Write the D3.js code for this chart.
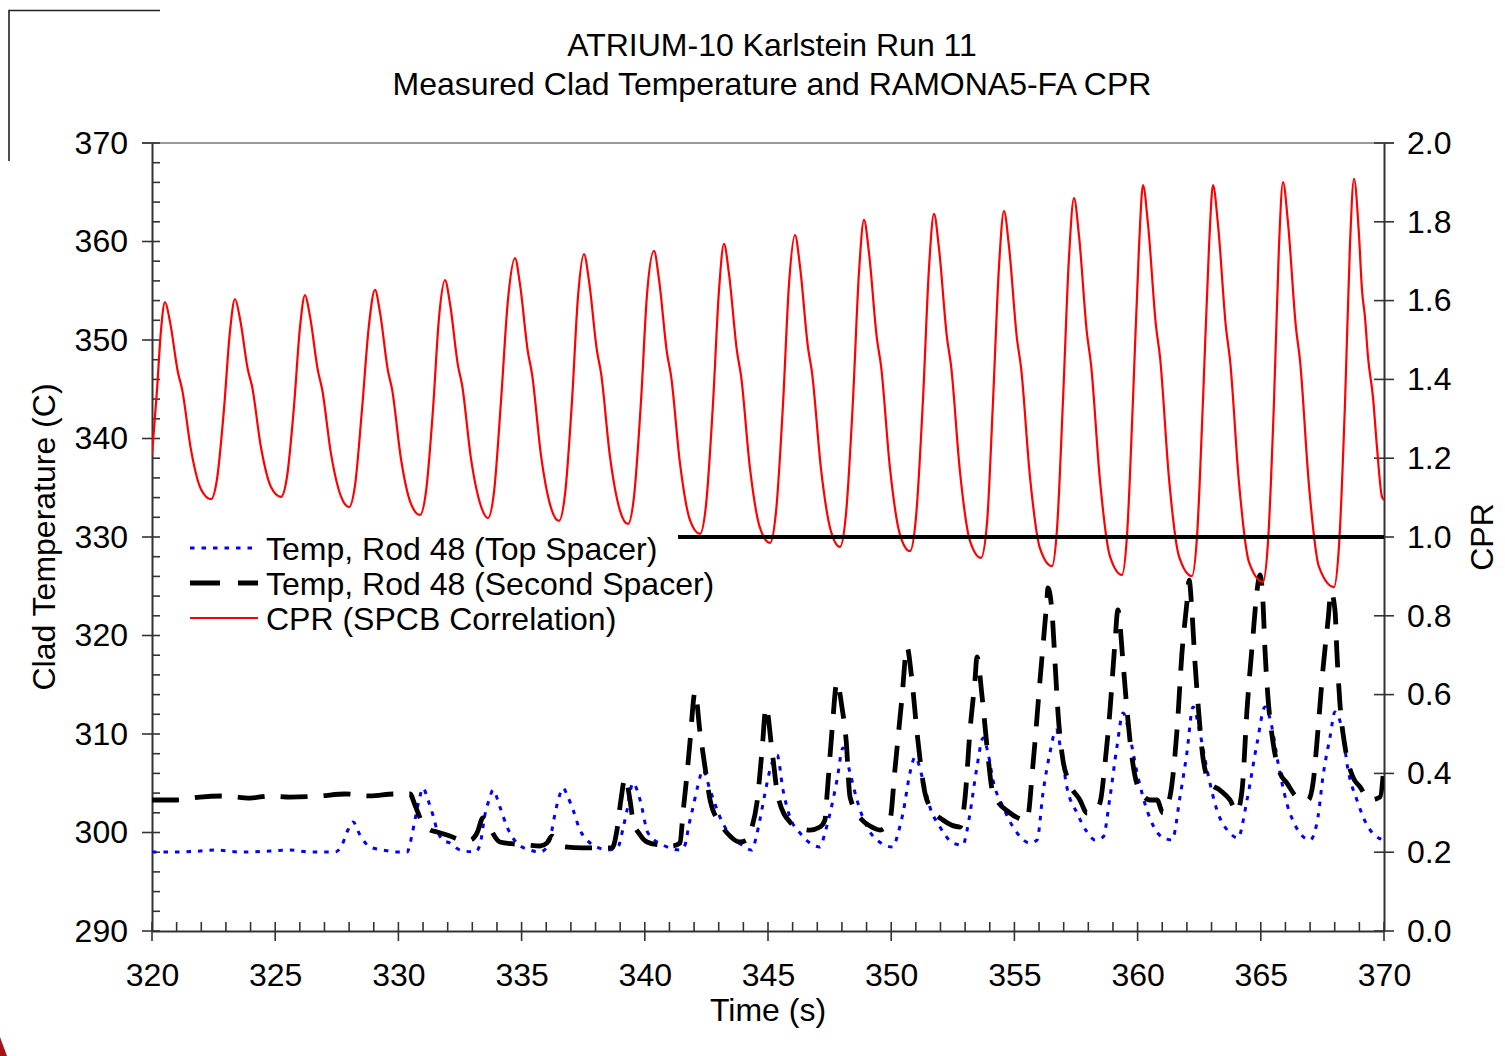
<!DOCTYPE html>
<html><head><meta charset="utf-8">
<script src="https://cdn.jsdelivr.net/npm/d3@7"></script>
<style>
body{margin:0;background:#fff;}
svg{display:block;}
text{font-family:"Liberation Sans",Arial,Helvetica,sans-serif;fill:#000;}
</style>
</head><body>
<svg id="c" width="1505" height="1056"></svg>
<script>
// ---------- DATA ----------
const titleLines = ["ATRIUM-10 Karlstein Run 11", "Measured Clad Temperature and RAMONA5-FA CPR"];
const xLabel = "Time (s)";
const yLeftLabel = "Clad Temperature (C)";
const yRightLabel = "CPR";
const xTicks = [320, 325, 330, 335, 340, 345, 350, 355, 360, 365, 370];
const yLeftTicks = [290, 300, 310, 320, 330, 340, 350, 360, 370];
const yRightTicks = [0.0, 0.2, 0.4, 0.6, 0.8, 1.0, 1.2, 1.4, 1.6, 1.8, 2.0];
const seriesNames = ["Temp, Rod 48 (Top Spacer)", "Temp, Rod 48 (Second Spacer)", "CPR (SPCB Correlation)"];

// [time s, CPR]
const cprData = [
[320.000,1.208],[320.203,1.373],[320.365,1.525],[320.528,1.596],
[320.731,1.546],[321.055,1.417],[321.218,1.376],[321.583,1.221],[321.989,1.121],[322.394,1.096],[322.638,1.147],[322.922,1.325],[323.166,1.523],[323.368,1.604],
[323.571,1.554],[323.896,1.423],[324.058,1.383],[324.424,1.227],[324.829,1.127],[325.235,1.102],[325.479,1.153],[325.763,1.332],[326.006,1.532],[326.209,1.614],
[326.412,1.560],[326.737,1.421],[326.899,1.377],[327.265,1.211],[327.670,1.103],[327.995,1.076],[328.239,1.131],[328.523,1.324],[328.807,1.539],[329.050,1.627],
[329.253,1.570],[329.578,1.421],[329.740,1.376],[330.105,1.198],[330.511,1.084],[330.877,1.056],[331.120,1.115],[331.404,1.324],[331.648,1.557],[331.891,1.652],
[332.094,1.592],[332.419,1.435],[332.581,1.387],[332.946,1.199],[333.352,1.078],[333.636,1.048],[333.880,1.114],[334.164,1.345],[334.448,1.603],[334.732,1.708],
[334.935,1.641],[335.260,1.468],[335.422,1.414],[335.787,1.207],[336.193,1.074],[336.518,1.041],[336.761,1.108],[337.045,1.345],[337.289,1.610],[337.532,1.718],
[337.735,1.650],[338.060,1.472],[338.222,1.417],[338.587,1.204],[338.993,1.067],[339.318,1.033],[339.561,1.102],[339.846,1.345],[340.089,1.615],[340.373,1.726],
[340.576,1.654],[340.901,1.467],[341.063,1.410],[341.428,1.187],[341.834,1.043],[342.240,1.008],[342.484,1.081],[342.768,1.339],[343.011,1.626],[343.214,1.744],
[343.417,1.668],[343.742,1.471],[343.904,1.410],[344.269,1.174],[344.675,1.023],[345.081,0.985],[345.324,1.063],[345.609,1.337],[345.852,1.641],[346.096,1.766],
[346.298,1.687],[346.623,1.481],[346.785,1.418],[347.151,1.173],[347.557,1.014],[347.922,0.975],[348.165,1.058],[348.449,1.348],[348.693,1.672],[348.896,1.805],
[349.099,1.721],[349.423,1.502],[349.586,1.435],[349.951,1.174],[350.357,1.006],[350.763,0.964],[351.006,1.050],[351.290,1.349],[351.534,1.683],[351.737,1.820],
[351.940,1.732],[352.264,1.506],[352.427,1.436],[352.792,1.165],[353.198,0.990],[353.644,0.947],[353.888,1.035],[354.131,1.343],[354.375,1.687],[354.578,1.827],
[354.781,1.737],[355.105,1.503],[355.268,1.431],[355.633,1.152],[356.039,0.971],[356.526,0.926],[356.729,1.020],[356.972,1.347],[357.216,1.711],[357.418,1.860],
[357.621,1.765],[357.946,1.516],[358.108,1.439],[358.474,1.143],[358.879,0.951],[359.366,0.904],[359.569,1.003],[359.813,1.349],[360.056,1.735],[360.219,1.893],
[360.422,1.794],[360.746,1.536],[360.909,1.457],[361.274,1.149],[361.680,0.951],[362.207,0.901],[362.410,1.000],[362.654,1.347],[362.897,1.735],[363.060,1.893],
[363.263,1.793],[363.587,1.531],[363.750,1.450],[364.115,1.138],[364.521,0.936],[365.089,0.886],[365.292,0.987],[365.535,1.343],[365.738,1.739],[365.901,1.901],
[366.103,1.798],[366.428,1.531],[366.590,1.449],[366.956,1.130],[367.362,0.924],[367.970,0.873],[368.173,0.977],[368.417,1.339],[368.620,1.743],[368.782,1.909],
[368.985,1.766],[369.107,1.627],[369.228,1.558],[369.350,1.457],[369.553,1.355],[369.715,1.228],[369.918,1.102],[370.000,1.094]
];

// [time s, temperature C] second spacer (black dashed)
const secondSpacerData = [
[320.00,303.30],[320.93,303.30],[321.95,303.60],[322.96,303.71],[323.98,303.50],[324.79,303.71],[325.60,303.60],[326.82,303.71],[327.83,303.91],[328.85,303.71],[329.86,303.91],[330.47,303.91],
[330.67,302.79],[330.96,301.07],[331.28,300.25],[331.57,300.05],[332.09,299.64],[332.58,299.24],[332.91,299.24],[333.19,299.95],[333.43,301.47],[333.56,301.27],[333.72,300.46],[334.12,299.04],[334.73,298.83],[335.22,298.73],[335.75,298.63],[336.03,298.93],[336.23,299.64],[336.48,299.04],[336.76,298.53],[337.49,298.43],[338.18,298.43],[338.67,298.43],
[338.87,300.25],[339.03,303.30],[339.20,305.53],[339.40,303.30],[339.52,301.27],[339.81,299.75],[340.09,299.04],[340.62,298.73],[341.10,298.63],[341.43,298.93],
[341.55,301.98],[341.71,305.84],[341.83,309.09],[342.04,314.26],[342.24,310.20],[342.36,308.07],[342.52,305.33],[342.65,303.30],[343.05,300.96],[343.34,299.95],[343.86,299.04],[344.15,299.24],
[344.35,300.56],[344.55,302.99],[344.76,308.38],[344.92,312.74],[345.16,308.38],[345.41,303.60],[345.89,301.07],[346.30,300.46],[346.70,300.25],[347.11,300.56],[347.31,301.27],
[347.39,303.60],[347.60,310.41],[347.80,315.28],[348.00,312.74],[348.17,309.39],[348.33,303.60],[348.82,301.27],[349.14,300.66],[349.55,300.25],[349.95,301.27],
[350.15,306.35],[350.44,313.76],[350.64,318.83],[350.84,315.48],[351.05,310.10],[351.37,304.01],[351.57,302.59],[352.10,301.27],[352.79,300.56],
[353.00,303.60],[353.20,310.41],[353.40,315.48],[353.48,317.82],[353.69,313.76],[353.89,308.68],[354.13,304.01],[354.82,301.98],[355.51,301.27],
[355.76,307.06],[356.04,315.48],[356.32,323.60],[356.36,324.82],[356.53,322.28],[356.65,317.21],[356.77,312.13],[356.97,307.36],[357.18,305.33],[357.66,303.30],[357.95,301.98],[358.19,302.08],
[358.47,302.99],[358.68,307.06],[358.88,312.44],[359.08,319.24],[359.20,322.59],[359.41,317.21],[359.57,312.44],[359.77,307.66],[360.02,304.62],[360.50,303.30],[360.79,303.30],[361.03,301.98],
[361.31,303.60],[361.60,310.41],[361.80,318.22],[362.00,323.30],[362.09,325.63],[362.21,322.28],[362.33,317.21],[362.45,313.15],[362.65,307.66],[362.94,305.02],[363.34,304.31],[363.75,303.30],[364.03,302.08],
[364.24,304.31],[364.44,312.44],[364.68,319.85],[364.85,324.62],[364.97,326.14],[365.09,323.30],[365.17,318.53],[365.29,313.76],[365.50,309.09],[365.78,306.04],[366.06,305.02],[366.47,303.60],[366.92,303.30],
[367.12,305.02],[367.32,310.41],[367.52,316.50],[367.73,321.57],[367.85,324.42],[368.01,322.59],[368.09,318.22],[368.21,313.15],[368.42,308.68],[368.74,305.63],[369.03,304.62],[369.43,303.30],[369.84,303.60],[370.00,306.85]
];

// [time s, temperature C] top spacer (blue dotted)
const topSpacerData = [
[320.00,298.02],[321.14,298.02],[321.95,298.12],[322.56,298.22],[323.57,298.02],[324.79,298.12],[325.60,298.22],[326.41,298.02],[327.43,298.02],[327.71,298.73],[327.95,300.25],[328.16,301.07],[328.44,299.75],[328.85,298.53],[329.38,298.22],[329.94,298.02],[330.35,298.02],
[330.55,299.75],[330.67,301.27],[330.84,303.30],[331.00,304.52],[331.20,303.30],[331.40,301.78],[331.57,300.25],[331.81,299.24],[332.09,298.93],[332.50,298.22],[333.11,298.02],
[333.31,298.73],[333.51,301.78],[333.68,303.30],[333.84,304.31],[334.12,302.59],[334.41,300.56],[334.81,298.93],[335.34,298.22],[335.75,298.02],
[336.03,298.53],[336.23,300.25],[336.36,301.98],[336.52,303.60],[336.68,304.52],[336.88,303.60],[337.09,302.28],[337.37,300.25],[337.65,299.24],[338.06,298.53],[338.51,298.22],
[338.91,298.53],[339.12,300.46],[339.28,302.28],[339.52,305.02],[339.81,303.30],[340.13,299.95],[340.74,298.73],[341.43,298.22],
[341.63,298.73],[341.79,300.76],[341.96,302.59],[342.16,304.82],[342.36,306.35],[342.65,304.31],[343.05,301.57],[343.46,299.75],[343.94,298.73],[344.35,298.22],
[344.51,299.44],[344.67,301.27],[344.88,304.01],[345.08,306.35],[345.37,307.87],[345.61,304.31],[345.89,301.57],[346.30,299.95],[346.70,298.93],[347.11,298.53],
[347.31,299.95],[347.52,301.98],[347.80,305.33],[348.04,308.58],[348.33,306.04],[348.61,303.30],[349.02,300.56],[349.42,299.24],[350.07,298.53],
[350.28,299.95],[350.48,301.98],[350.76,306.04],[350.97,307.66],[351.29,305.33],[351.57,302.59],[351.98,300.56],[352.51,298.93],[352.91,298.73],
[353.08,300.25],[353.20,301.98],[353.48,306.65],[353.73,309.59],[353.93,308.07],[354.13,305.33],[354.54,302.59],[355.11,299.95],[355.63,298.93],[355.92,299.24],
[356.16,304.01],[356.44,308.07],[356.69,310.41],[356.93,307.66],[357.13,304.62],[357.54,301.98],[357.95,300.05],[358.27,299.24],[358.60,299.54],
[358.88,303.60],[359.16,308.68],[359.41,312.13],[359.69,309.70],[359.98,306.04],[360.38,302.28],[360.99,299.54],[361.40,299.24],
[361.72,303.60],[362.00,308.07],[362.25,312.74],[362.53,310.10],[362.82,306.35],[363.22,302.28],[363.75,299.95],[364.07,299.44],
[364.44,303.30],[364.85,309.09],[365.17,312.74],[365.45,310.71],[365.70,307.06],[366.18,301.98],[367.00,299.24],
[367.32,301.57],[367.52,305.63],[367.81,309.70],[368.01,312.23],[368.30,310.41],[368.54,306.35],[368.90,303.30],[369.31,300.76],[369.72,299.54],[370.00,299.24]
];

// CPR = 1.0 reference line
const cprLimit = [[341.35,1.0],[370.0,1.0]];

// ---------- LAYOUT ----------
const svg = d3.select("#c");
const L = 152, R = 1384, T = 143, B = 931;
const FS = 32;
const x = d3.scaleLinear().domain([320, 370]).range([L, R]);
const yT = d3.scaleLinear().domain([290, 370]).range([B, T]);
const yC = d3.scaleLinear().domain([0, 2]).range([B, T]);

svg.append("rect").attr("width",1505).attr("height",1056).attr("fill","#fff");

// page-frame remnants
svg.append("path").attr("d","M9,161 L9,10.5 L160,10.5").attr("fill","none").attr("stroke","#222").attr("stroke-width",1.6);
svg.append("path").attr("d","M0,1037 L7,1056 L0,1056 Z").attr("fill","#a8141a");

// titles
svg.append("text").attr("x",772).attr("y",56).attr("text-anchor","middle").style("font-size",FS+"px").text(titleLines[0]);
svg.append("text").attr("x",772).attr("y",95).attr("text-anchor","middle").style("font-size",FS+"px").text(titleLines[1]);

// top border
svg.append("line").attr("x1",142).attr("x2",1394).attr("y1",T).attr("y2",T).attr("stroke","#7a7a7a").attr("stroke-width",1.6);

// axes (labels via d3 axis generators)
const axL = svg.append("g").attr("transform",`translate(${L},0)`)
  .call(d3.axisLeft(yT).tickValues(yLeftTicks).tickSize(0).tickPadding(24).tickFormat(d3.format("d")));
const axB = svg.append("g").attr("transform",`translate(0,${B})`)
  .call(d3.axisBottom(x).tickValues(xTicks).tickSize(0).tickPadding(32).tickFormat(d3.format("d")));
const axR = svg.append("g").attr("transform",`translate(${R},0)`)
  .call(d3.axisRight(yC).tickValues(yRightTicks).tickSize(0).tickPadding(23).tickFormat(d3.format(".1f")));
[axL,axB,axR].forEach(g=>{
  g.selectAll("text").style("font-size",FS+"px").style("font-family",'"Liberation Sans",Arial,sans-serif').attr("fill","#000");
  g.select(".domain").attr("stroke","#333").attr("stroke-width",2);
});

const tickG = svg.append("g").attr("stroke","#333").attr("stroke-width",1.6);
tickG.selectAll(".lmaj").data(yLeftTicks).enter().append("line")
  .attr("x1",142).attr("x2",160).attr("y1",d=>yT(d)).attr("y2",d=>yT(d));
tickG.selectAll(".lmin").data(d3.range(292,370,2).filter(v=>v%10!==0)).enter().append("line")
  .attr("x1",L).attr("x2",160).attr("y1",d=>yT(d)).attr("y2",d=>yT(d));
tickG.selectAll(".bmaj").data(xTicks).enter().append("line")
  .attr("x1",d=>x(d)).attr("x2",d=>x(d)).attr("y1",922).attr("y2",941);
tickG.selectAll(".bmin").data(d3.range(321,370,1).filter(v=>v%5!==0)).enter().append("line")
  .attr("x1",d=>x(d)).attr("x2",d=>x(d)).attr("y1",922).attr("y2",B);
tickG.selectAll(".rmaj").data(yRightTicks).enter().append("line")
  .attr("x1",1374).attr("x2",1394).attr("y1",d=>yC(d)).attr("y2",d=>yC(d));

// axis titles
svg.append("text").attr("x",768).attr("y",1021).attr("text-anchor","middle").style("font-size",FS+"px").text(xLabel);
svg.append("text").attr("transform","translate(55,537) rotate(-90)").attr("text-anchor","middle").style("font-size",FS+"px").text(yLeftLabel);
svg.append("text").attr("transform","translate(1493,537) rotate(-90)").attr("text-anchor","middle").style("font-size",FS+"px").text(yRightLabel);

// clip
svg.append("clipPath").attr("id","plot").append("rect").attr("x",L).attr("y",T-2).attr("width",R-L).attr("height",B-T+2);
const plot = svg.append("g").attr("clip-path","url(#plot)");

const lineT = d3.line().x(d=>x(d[0])).y(d=>yT(d[1])).curve(d3.curveMonotoneX);
const lineC = d3.line().x(d=>x(d[0])).y(d=>yC(d[1])).curve(d3.curveMonotoneX);

plot.append("path").datum(topSpacerData).attr("d",lineT).attr("fill","none")
  .attr("stroke","#0000ff").attr("stroke-width",3).attr("stroke-dasharray","4.5,7");
plot.append("path").datum(secondSpacerData).attr("d",lineT).attr("fill","none")
  .attr("stroke","#000").attr("stroke-width",4.8).attr("stroke-dasharray","27,16");
plot.append("path").datum(cprData).attr("d",lineC).attr("fill","none")
  .attr("stroke","#ff0000").attr("stroke-width",2.2).attr("stroke-linejoin","round");
plot.append("path").datum(cprLimit).attr("d",d3.line().x(d=>x(d[0])).y(d=>yC(d[1]))).attr("fill","none")
  .attr("stroke","#000").attr("stroke-width",4);

// legend
const legendStyles = [
  {stroke:"#0000ff", w:3, dash:"4.5,7"},
  {stroke:"#000", w:5, dash:"30,18"},
  {stroke:"#ff0000", w:2.2, dash:null}
];
const lg = svg.append("g");
seriesNames.forEach((name,i)=>{
  const yy = 548 + i*35;
  const st = legendStyles[i];
  const ln = lg.append("line").attr("x1",190).attr("x2",258).attr("y1",yy).attr("y2",yy)
    .attr("stroke",st.stroke).attr("stroke-width",st.w);
  if (st.dash) ln.attr("stroke-dasharray",st.dash);
  lg.append("text").attr("x",266).attr("y",yy).attr("dy","0.36em").style("font-size",FS+"px").text(name);
});
</script>
</body></html>
